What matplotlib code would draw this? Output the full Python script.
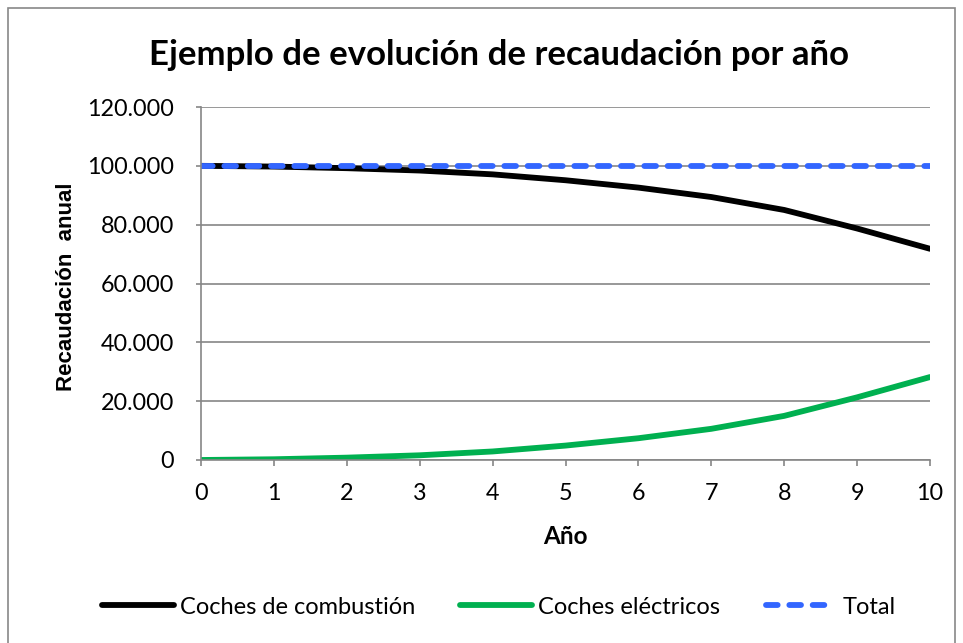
import numpy as np
import matplotlib.pyplot as plt
from matplotlib.ticker import FuncFormatter
from matplotlib.patches import Rectangle

years = [0, 1, 2, 3, 4, 5, 6, 7, 8, 9, 10]
combustion = [100000, 99750, 99200, 98400, 97100, 95100, 92600, 89400, 85000, 78700, 71800]
electric = [0, 250, 800, 1600, 2900, 4900, 7400, 10600, 15000, 21300, 28200]
total = [100000, 100000, 100000, 100000, 100000, 100000, 100000, 100000, 100000, 100000, 100000]

plt.rcParams['font.family'] = ['Lato', 'DejaVu Sans']

fig = plt.figure(figsize=(9.63, 6.43), dpi=100)
fig.patches.append(Rectangle((8 / 963, -0.01), 947 / 963, 1 - 8 / 643 + 0.01,
                             transform=fig.transFigure, fill=False,
                             edgecolor='#888888', linewidth=1.2))
ax = fig.add_axes([201 / 963, 1 - 460 / 643, 729 / 963, 353 / 643])

lw = 4.2
l1, = ax.plot(years, combustion, color='black', lw=lw, solid_capstyle='round',
              label='Coches de combustión')
l2, = ax.plot(years, electric, color='#00B050', lw=lw, solid_capstyle='round',
              label='Coches eléctricos')
l3, = ax.plot(years, total, color='#3366FF', lw=lw, dashes=(2.0, 2.0),
              dash_capstyle='round', label='Total')

ax.set_xlim(0, 10)
ax.set_ylim(0, 120000)
ax.set_xticks(years)
ax.set_yticks(np.arange(0, 120001, 20000))


def fmt(v, pos):
    if v == 0:
        return '0'
    return f'{int(v):,}'.replace(',', '.')


ax.yaxis.set_major_formatter(FuncFormatter(fmt))
ax.grid(axis='y', color='#868686', lw=1.2)
ax.set_axisbelow(True)
for s in ['top', 'right']:
    ax.spines[s].set_visible(False)
for s in ['left', 'bottom']:
    ax.spines[s].set_color('#868686')
    ax.spines[s].set_linewidth(1.2)
ax.tick_params(axis='both', colors='#868686', labelcolor='black', labelsize=16.8,
               width=1.2)
ax.tick_params(axis='x', length=4.5, pad=12)
ax.tick_params(axis='y', length=3.6, pad=16)

ax.set_xlabel('Año', fontsize=17.5, fontweight='bold')
ax.xaxis.set_label_coords(0.5, -(537 - 460) / 353, transform=ax.transAxes)
ax.xaxis.label.set_va('center')
ax.set_ylabel('Recaudación  anual', fontsize=16, fontweight='bold',
              family=['Liberation Sans', 'DejaVu Sans'])
ax.yaxis.set_label_coords(-(201 - 66) / 729, 0.49)
ax.yaxis.label.set_va('center')
fig.text(499 / 963, 1 - 55 / 643, 'Ejemplo de evolución de recaudación por año',
         ha='center', va='center', fontsize=25, fontweight='bold')

# legend entries placed separately, like Excel's equal-width slots
for line, x0, hl, tp in [(l1, 102, 3.05, 0.25), (l2, 460, 3.05, 0.25),
                         (l3, 766, 2.5, 0.75)]:
    fig.legend(handles=[line], loc='center left',
               bbox_to_anchor=(x0 / 963, 1 - 607 / 643), frameon=False,
               fontsize=17, handlelength=hl, handletextpad=tp,
               borderpad=0, borderaxespad=0)

fig.savefig('out.png', dpi=100)
